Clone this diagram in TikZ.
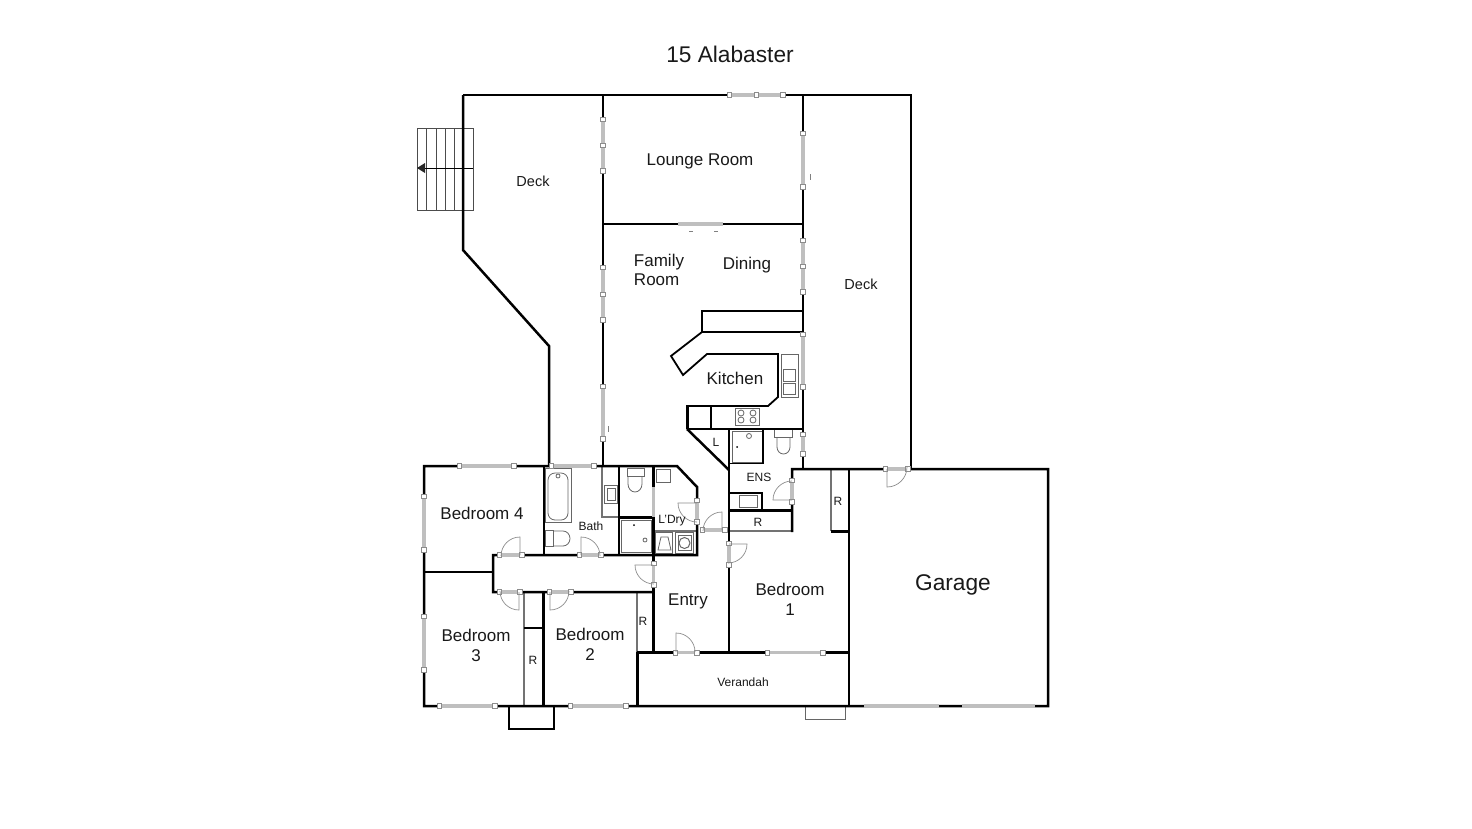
\documentclass[tikz,border=0pt]{standalone}
\usepackage{fontspec}
\setmainfont{Liberation Sans}
\tikzset{
  x=1pt,y=-1pt,
  wall/.style={draw=black,line width=2.5pt,line cap=butt,line join=miter},
  counter/.style={draw=black,line width=1.8pt,line join=miter},
  thin wall/.style={draw=black!55,line width=1.1pt},
  fix/.style={draw=black!60,line width=0.8pt},
  stair/.style={draw=black!70,line width=0.8pt},
  pane/.style={draw=black!25,line width=3.6pt},
  lug/.style={draw=black!45,fill=white,line width=0.6pt},
  swing/.style={draw=black!45,line width=0.7pt},
  room/.style={font=\fontsize{17}{19.5}\selectfont,align=center,inner sep=0pt,text=black!90},
  smallroom/.style={font=\fontsize{14.5}{17}\selectfont,align=center,inner sep=0pt,text=black!90},
  tiny/.style={font=\fontsize{12}{14}\selectfont,align=center,inner sep=0pt,text=black!90},
  huge label/.style={font=\fontsize{22.7}{27}\selectfont,inner sep=0pt,text=black!90},
}
\newcommand{\winH}[3]{% x1 x2 y
  \draw[pane] (#1,#3) -- (#2,#3);
  \filldraw[lug] (#1-3,#3-2.5) rectangle (#1+1.5,#3+2.5);
  \filldraw[lug] (#2-1.5,#3-2.5) rectangle (#2+3,#3+2.5);}
\newcommand{\winV}[3]{% x y1 y2
  \draw[pane] (#1,#2) -- (#1,#3);
  \filldraw[lug] (#1-2.5,#2-3) rectangle (#1+2.5,#2+1.5);
  \filldraw[lug] (#1-2.5,#3-1.5) rectangle (#1+2.5,#3+3);}
\begin{document}
\begin{tikzpicture}
\useasboundingbox (0,0) rectangle (1472,828);
\fill[white] (0,0) rectangle (1472,828);

% stairs
\draw[stair] (417,128) rectangle (473,210);
\foreach \s in {426,436,445,454,463}{\draw[stair] (\s,128) -- (\s,210);}
\draw[stair,black] (425,168) -- (473,168);
\fill[black!85] (417,168) -- (425,163) -- (425,173) -- cycle;

% fixtures
\draw[fix] (781,354) rectangle (798,397);
\draw[fix] (783,369) rectangle (795,381);
\draw[fix] (783,383) rectangle (795,394);
\draw[fix] (735,408) rectangle (759,425);
\foreach \a/\b in {741/413,753/413,741/420,753/420}{\draw[fix] (\a,\b) circle (3);}
\draw[fix] (732,431) rectangle (762,462);
\fill[black] (737,447) circle (1);
\draw[fix] (749,436) circle (2.5);
\draw[fix] (774,429) rectangle (792,437);
\draw[fix] (777,437) -- (777,447) arc[start angle=-180,end angle=-360,x radius=6.5,y radius=7] -- (790,437);
\draw[fix] (739,495) rectangle (757,507);
\draw[fix] (545,468) rectangle (571,522);
\draw[fix,rounded corners=7pt] (548,473) rectangle (568,520);
\draw[fix] (558,476) circle (2);
\draw[fix] (545,530) rectangle (553,546);
\draw[fix] (553,531) -- (563,531) arc[start angle=-90,end angle=90,x radius=7,y radius=7.5] -- (553,546);
\draw[fix] (604,485) rectangle (617,503);
\draw[fix] (607,488) rectangle (615,500);
\draw[fix] (627,468) rectangle (644,476);
\draw[fix] (628,476) -- (628,484) arc[start angle=-180,end angle=-360,x radius=7,y radius=8] -- (642,476);
\draw[fix] (621,520) rectangle (651,552);
\fill[black] (634,525) circle (1);
\draw[fix] (645,540) circle (2);
\draw[fix] (656,469) rectangle (670,482);
\draw[fix] (655,532) rectangle (672,553);
\draw[fix] (658,550) -- (661,537) -- (668,537) -- (671,550) -- cycle;
\draw[fix] (675,532) rectangle (693,553);
\draw[fix] (678,535) rectangle (691,550);
\draw[fix,line width=1pt] (684.5,543) circle (5.5);
\draw[fix] (805,706) -- (805,719.5) -- (845,719.5) -- (845,706);

% thin walls
\draw[thin wall] (524,592) -- (524,706);
\draw[thin wall] (637,592) -- (637,652);
\draw[thin wall] (831,469) -- (831,531);
\draw[thin wall] (729,531) -- (792,531);
\draw[thin wall] (602,466) -- (602,517) -- (619,517);
\draw[thin wall] (654,531) -- (697,531);

% walls
\draw[wall] (463,95) -- (911,95) -- (911,469);
\draw[wall] (463,95) -- (463,250) -- (549,346) -- (549,466);
\draw[wall] (603,95) -- (603,466);
\draw[wall] (803,95) -- (803,469);
\draw[wall] (603,224) -- (803,224);
\draw[counter] (702,332) -- (702,311) -- (803,311);
\draw[counter] (803,332) -- (702,332) -- (671,356) -- (683,375) -- (707,354) -- (778,354) -- (778,397) -- (768,406) -- (687,406);
\draw[wall,line width=3pt] (687.5,405) -- (687.5,429);
\draw[counter] (711,406) -- (711,429);
\draw[wall] (687,429) -- (803,429);
\draw[wall] (687,429) -- (729,470);
\draw[wall] (729,429) -- (729,652);
\draw[counter] (730,463.5) -- (763,463.5) -- (763,430);
\draw[counter] (729,493) -- (762,493) -- (762,510);
\draw[wall] (729,510.5) -- (792,510.5);
\draw[wall] (792,532) -- (792,469) -- (1048,469) -- (1048,706) -- (424,706) -- (424,466) -- (677,466) -- (697,487) -- (697,555) -- (493,555) -- (493,592) -- (654,592);
\draw[wall] (424,572) -- (493,572);
\draw[wall] (544,466) -- (544,555);
\draw[wall] (619,466) -- (619,555);
\draw[wall] (619,517.5) -- (654,517.5);
\draw[wall] (653.5,466) -- (653.5,652);
\draw[wall] (543.5,592) -- (543.5,706);
\draw[wall] (524,628) -- (544,628);
\draw[wall] (637.5,652) -- (637.5,706);
\draw[wall] (637,652.5) -- (849,652.5);
\draw[wall] (849,469) -- (849,706);
\draw[wall] (831,531.5) -- (849,531.5);
\draw[wall] (509,706) -- (509,729) -- (554,729) -- (554,706);

% windows
\winH{730}{782}{95}
\filldraw[lug] (754,92.5) rectangle (758,97.5);
\winV{603}{120}{170}
\filldraw[lug] (600.5,143) rectangle (605.5,147);
\winV{803}{134}{186}
\draw[pane] (678,224) -- (723,224);
\winV{603}{268}{319}
\filldraw[lug] (600.5,292) rectangle (605.5,296);
\winV{803}{241}{291}
\filldraw[lug] (800.5,264) rectangle (805.5,268);
\winV{603}{387}{438}
\winV{803}{335}{386}
\winV{803}{435}{453}
\winH{460}{513}{466}
\winH{552}{593}{466}
\winV{424}{497}{549}
\winV{424}{617}{669}
\winH{440}{494}{706}
\winH{571}{625}{706}
\winH{768}{822}{652.5}
\draw[pane] (864,706) -- (939,706);
\draw[pane] (962,706) -- (1035,706);
\draw[pane] (653.5,487) -- (653.5,517);
\foreach \a/\b/\c/\d in {810/174/810/180,689/231/693/231,714/231/718/231,608/426/608/432}{\draw[black!50,line width=0.6pt] (\a,\b) -- (\c,\d);}

% doors
\winH{500}{521}{555}
\draw[swing] (520,555) -- (520,537) arc[start angle=-90,end angle=-180,radius=19];
\winH{580}{600}{555}
\draw[swing] (581,555) -- (581,537) arc[start angle=-90,end angle=0,radius=19];
\winH{500}{519}{592}
\draw[swing] (519,592) -- (519,610) arc[start angle=90,end angle=180,radius=19];
\winH{550}{570}{592}
\draw[swing] (550,592) -- (550,610) arc[start angle=90,end angle=0,radius=19];
\winV{653.5}{564}{584}
\draw[swing] (653,565) -- (635,565) arc[start angle=180,end angle=90,radius=19];
\winH{676}{696}{652.5}
\draw[swing] (676,652) -- (676,633) arc[start angle=-90,end angle=0,radius=19];
\winH{703}{724}{530}
\draw[swing] (722,530) -- (722,512) arc[start angle=-90,end angle=-180,radius=19];
\winV{697}{501}{521}
\draw[swing] (697,503) -- (678,503) arc[start angle=180,end angle=90,radius=19];
\winV{729}{544}{564}
\draw[swing] (729,544) -- (747,544) arc[start angle=0,end angle=90,radius=19];
\winV{792}{481}{501}
\draw[swing] (792,500) -- (773,500) arc[start angle=180,end angle=270,radius=19];
\winH{886}{907}{469}
\draw[swing] (887,469) -- (887,487) arc[start angle=90,end angle=0,radius=20];

% labels
\node[huge label] (title) at (730,54.5) {15 Alabaster};
\node[room] (lounge) at (700,161) {Lounge Room};
\node[smallroom] (deck1) at (533,181) {Deck};
\node[smallroom] (deck2) at (861,284) {Deck};
\node[room,align=left] (family) at (659,270) {Family\\Room};
\node[room] (dining) at (747,265) {Dining};
\node[room] (kitchen) at (735,378) {Kitchen};
\node[tiny] (l) at (716,442) {L};
\node[tiny] (ens) at (759,477) {ENS};
\node[tiny] (r1) at (758,522) {R};
\node[tiny] (r2) at (838,501) {R};
\node[tiny] (bath) at (591,526) {Bath};
\node[tiny] (ldry) at (672,521) {L'Dry};
\node[room] (bed4) at (482,513) {Bedroom 4};
\node[room] (bed1) at (790,599.5) {Bedroom\\1};
\node[room] (bed3) at (476,645.5) {Bedroom\\3};
\node[room] (bed2) at (590,644.5) {Bedroom\\2};
\node[room] (entry) at (688,601) {Entry};
\node[tiny] (r3) at (533,660) {R};
\node[tiny] (r4) at (643,621) {R};
\node[tiny] (ver) at (743,682.5) {Verandah};
\node[huge label] (garage) at (953,585) {Garage};
\end{tikzpicture}
\end{document}
